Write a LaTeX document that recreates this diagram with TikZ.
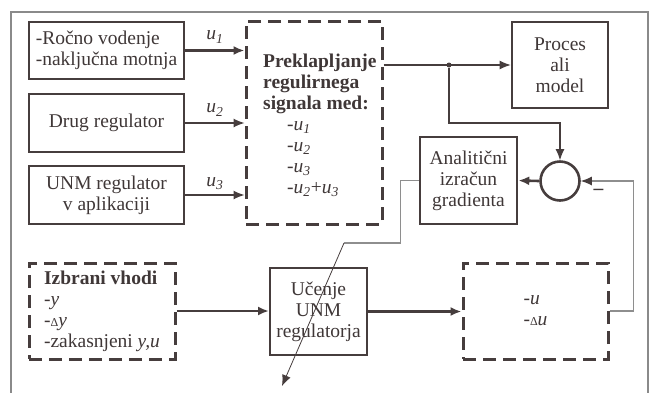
\documentclass[tikz,border=0pt]{standalone}
\usepackage{fontspec}
\setmainfont{Liberation Serif}
\usetikzlibrary{arrows.meta,positioning,calc}
\definecolor{cInk}{HTML}{3F3737}
\definecolor{cLine}{HTML}{463D3D}
\definecolor{cWire}{HTML}{8E8E8E}
\definecolor{cFrame}{HTML}{8A8A8A}
\tikzset{
  block/.style={draw=cLine, line width=2.6pt, align=center, inner sep=2pt, text=cInk},
  dashblock/.style={block, line width=3pt, dash pattern=on 13pt off 7pt},
  flow/.style={-{Latex[length=11pt,width=9pt]}, line width=1.2pt, draw=cLine},
  heavyflow/.style={flow, line width=2.2pt},
  wire/.style={line width=1.1pt, draw=cWire},
}
\newcommand{\picfont}{\fontsize{19.5}{21}\selectfont}
\newcommand{\tinyDelta}{{\fontsize{12}{12}\selectfont Δ}}
\newcommand{\uvar}[1]{\textit{u}\textsubscript{\textit{#1}}}

\begin{document}
\begin{tikzpicture}[x=1pt, y=-1pt, font=\picfont, text=cInk]
  \useasboundingbox (0,0) rectangle (656,392);
  \draw[cFrame, line width=1.2pt] (11,12) rectangle (648,400);
  % sources of the control signal
  \node[block, minimum width=155pt, minimum height=57pt, align=left] (manual) at (106.5,50.5)
    {-Ročno vodenje\\-naključna motnja};
  \node[block, minimum width=155pt, minimum height=58pt] (other) at (106.5,123) {Drug regulator};
  \node[block, minimum width=155pt, minimum height=58pt] (unmapp) at (106.5,195)
    {UNM regulator\\v aplikaciji};
  % switching block
  \node[dashblock, minimum width=136pt, minimum height=203pt] (switch) at (314,122.5) {};
  \node[anchor=north west, align=left, inner sep=0pt] (switchtxt) at (263,54)
    {\textbf{Preklapljanje}\\\textbf{regulirnega}\\\textbf{signala med:}\\
     \hspace{24pt}-\uvar{1}\\\hspace{24pt}-\uvar{2}\\\hspace{24pt}-\uvar{3}\\\hspace{24pt}-\uvar{2}+\uvar{3}};
  % plant, error and gradient
  \node[block, minimum width=96pt, minimum height=86pt] (plant) at (560,65) {Proces\\ali\\model};
  \node[draw=cLine, line width=2.6pt, circle, minimum size=39pt, inner sep=0pt] (sum) at (560,181) {};
  \node[block, minimum width=97pt, minimum height=87pt] (grad) at (468.5,180.5)
    {Analitični\\izračun\\gradienta};
  \node[circle, fill=cLine, inner sep=0pt, minimum size=5pt] (tap) at (449,65) {};
  \node (minus) at (598.5,192) {\textbf{–}};
  % learning row
  \node[dashblock, minimum width=146pt, minimum height=96pt, align=left] (inputs) at (102,311)
    {\textbf{Izbrani vhodi}\\-\textit{y}\\-\tinyDelta\textit{y}\\-zakasnjeni \textit{y,u}};
  \node[block, line width=2pt, minimum width=97pt, minimum height=87pt] (learn) at (318.5,311.5)
    {Učenje\\UNM\\regulatorja};
  \node[dashblock, minimum width=145pt, minimum height=96pt, align=left] (outputs) at (535.5,311)
    {-\textit{u}\\-\tinyDelta\textit{u}};
  \coordinate (bend) at (344,243);
  \coordinate (adjtip) at (282,386);
  % signals into the switch
  \draw[heavyflow] (manual.east) -- node[above=3pt] (u1lbl) {\uvar{1}} (manual.east -| switch.west);
  \draw[flow] (other.east) -- node[above=3pt] (u2lbl) {\uvar{2}} (other.east -| switch.west);
  \draw[flow] (unmapp.east) -- node[above=1pt] (u3lbl) {\uvar{3}} (unmapp.east -| switch.west);
  % plant and error loop
  \draw[flow] (switch.east |- plant.west) -- (plant.west);
  \draw[flow] (tap) -- ++(0,58) -| (sum.north);
  \draw[heavyflow, line width=2.6pt] (sum.west) -- (grad.east);
  \draw[wire, -{Latex[length=11pt,width=9pt,color=cLine]}] (outputs.east) -- ++(24,0) |- (sum.east);
  \draw[wire] (grad.west) -- ++(-18,0) |- (bend);
  \draw[flow, line width=0.8pt] (bend) -- (adjtip);
  % learning path
  \draw[heavyflow] (inputs.east) -- (inputs.east -| learn.west);
  \draw[heavyflow] (learn.east) -- (learn.east -| outputs.west);
\end{tikzpicture}
\end{document}
